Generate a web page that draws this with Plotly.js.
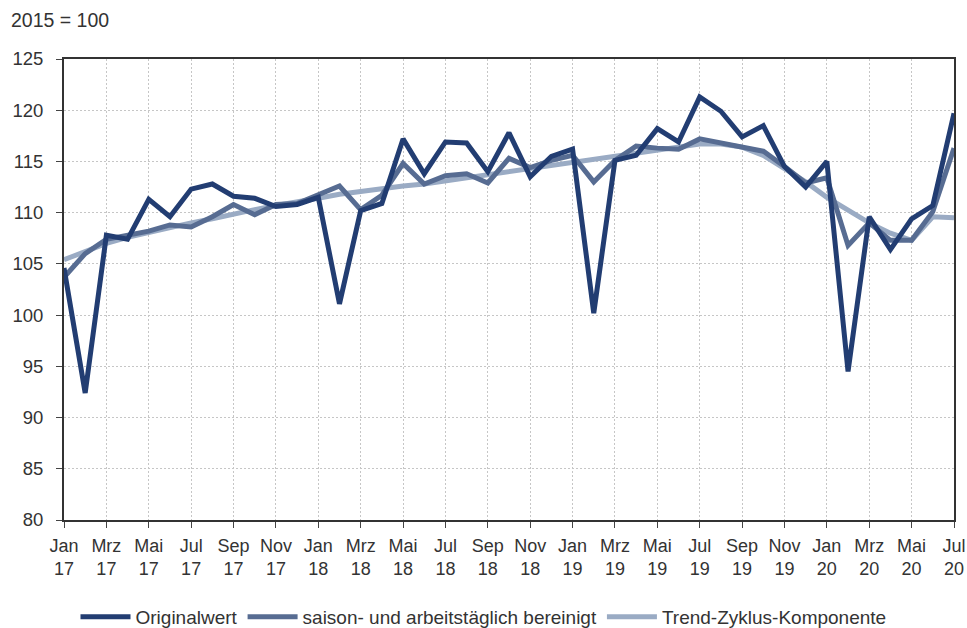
<!DOCTYPE html>
<html><head><meta charset="utf-8">
<script src="https://cdn.plot.ly/plotly-3.0.1.min.js"></script>
<style>body{margin:0;background:#fff}#chart{width:967px;height:628px}</style>
</head><body><div id="chart"></div>
<script>
const monthNames = ["Jan","Feb","Mrz","Apr","Mai","Jun","Jul","Aug","Sep","Okt","Nov","Dez"];
const years = ["17","18","19","20"];
const months = [];
for (const yy of years) for (const m of monthNames) { if (months.length < 43) months.push(m + " " + yy); }

const originalwert = [104.6,92.4,107.8,107.4,111.3,109.6,112.3,112.8,111.6,111.4,110.6,110.8,
  111.5,101.1,110.2,110.9,117.2,113.8,116.9,116.8,114.0,117.8,113.5,115.5,
  116.2,100.2,115.1,115.6,118.2,116.9,121.3,119.9,117.4,118.5,114.5,112.5,
  115.0,94.5,109.6,106.4,109.4,110.7,119.7];
const bereinigt = [103.7,106.0,107.4,107.8,108.2,108.8,108.6,109.6,110.8,109.8,110.8,110.9,
  111.8,112.6,110.3,111.7,114.8,112.8,113.6,113.8,112.9,115.3,114.4,115.1,
  115.6,113.0,115.1,116.5,116.3,116.2,117.2,116.8,116.5,116.0,114.5,112.9,
  113.4,106.8,109.0,107.3,107.3,110.1,116.3];
const trend = [105.4,106.2,107.0,107.6,108.1,108.6,109.0,109.4,109.9,110.3,110.7,111.0,
  111.4,111.8,112.1,112.3,112.6,112.8,113.1,113.4,113.7,114.0,114.3,114.6,
  114.9,115.2,115.5,115.8,116.1,116.4,116.7,116.7,116.4,115.6,114.3,113.0,
  111.5,110.2,109.0,108.0,107.3,109.6,109.5];

const tickVals = months.filter((m, i) => i % 2 === 0);
const tickText = tickVals.map(m => m.replace(" ", "<br>"));
const yTicks = [80,85,90,95,100,105,110,115,120,125];

const names = ["Originalwert","saison- und arbeitstäglich bereinigt","Trend-Zyklus-Komponente"];
const colors = ["#223d72","#576c92","#9aabc4"];
const series = [originalwert, bereinigt, trend];

const traces = series.map((s, k) => ({
  x: months, y: s, type: "scatter", mode: "lines", name: names[k],
  line: {color: colors[k], width: 5, shape: "linear"}, legendrank: k + 1
}));
const ordered = [traces[2], traces[1], traces[0]];

const sans = "Liberation Sans, Arial, sans-serif";
const layout = {
  width: 967, height: 628,
  margin: {l: 64, r: 13, t: 59, b: 108, autoexpand: false},
  paper_bgcolor: "#fff", plot_bgcolor: "#fff",
  showlegend: true,
  legend: {orientation: "h", x: 0.5, xanchor: "center", xref: "container",
    y: 0.0175, yanchor: "middle", yref: "container",
    font: {family: sans, size: 19, color: "#333"}, itemwidth: 50},
  xaxis: {type: "category", range: [0, 42], tickvals: tickVals, ticktext: tickText,
    tickfont: {family: sans, size: 18, color: "#333"},
    showline: true, linecolor: "#333", linewidth: 2, mirror: true,
    ticks: "outside", ticklen: 6, tickcolor: "#444", tickwidth: 1, ticklabelstandoff: 2,
    showgrid: true, gridcolor: "#c6c6c6", griddash: "2px,2px", gridwidth: 1, zeroline: false},
  yaxis: {range: [80, 125], tickvals: yTicks,
    tickfont: {family: sans, size: 18.5, color: "#333"},
    showline: true, linecolor: "#333", linewidth: 2, mirror: true,
    ticks: "outside", ticklen: 6, tickcolor: "#444", tickwidth: 1, ticklabelstandoff: 9,
    showgrid: true, gridcolor: "#c6c6c6", griddash: "2px,2px", gridwidth: 1, zeroline: false},
  annotations: [{text: "2015 = 100", xref: "paper", yref: "paper", x: -0.062, y: 1.085,
    xanchor: "left", yanchor: "middle", showarrow: false,
    font: {family: sans, size: 19.5, color: "#333"}}]
};
Plotly.newPlot("chart", ordered, layout, {displayModeBar: false, staticPlot: true});
</script></body></html>
